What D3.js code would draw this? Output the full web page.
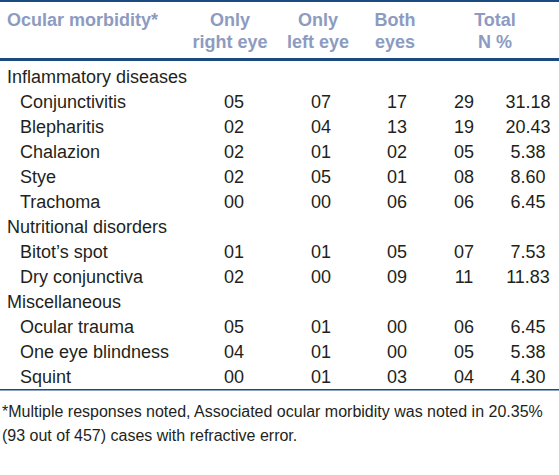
<!DOCTYPE html>
<html>
<head>
<meta charset="utf-8">
<script src="https://cdn.jsdelivr.net/npm/d3@7"></script>
<style>
  html, body { margin: 0; padding: 0; background: #fff; }
  svg { display: block; }
</style>
</head>
<body>
<script>
// ---- data ----
const headerLabels = [["Ocular morbidity*"], ["Only", "right eye"], ["Only", "left eye"], ["Both", "eyes"], ["Total", "N %"]];
const groups = ["Inflammatory diseases", "Nutritional disorders", "Miscellaneous"];
const conditions = ["Conjunctivitis", "Blepharitis", "Chalazion", "Stye", "Trachoma",
                    "Bitot’s spot", "Dry conjunctiva",
                    "Ocular trauma", "One eye blindness", "Squint"];
const conditionGroup = [0, 0, 0, 0, 0, 1, 1, 2, 2, 2];
const onlyRightEye = [5, 2, 2, 2, 0, 1, 2, 5, 4, 0];
const onlyLeftEye  = [7, 4, 1, 5, 0, 1, 0, 1, 1, 1];
const bothEyes     = [17, 13, 2, 1, 6, 5, 9, 0, 0, 3];
const totalN       = [29, 19, 5, 8, 6, 7, 11, 6, 5, 4];
const totalPct     = [31.18, 20.43, 5.38, 8.60, 6.45, 7.53, 11.83, 6.45, 5.38, 4.30];
const footnote = ["*Multiple responses noted, Associated ocular morbidity was noted in 20.35%",
                  "(93 out of 457) cases with refractive error."];

// ---- build rows ----
const rows = [];
let g = -1;
conditions.forEach((c, i) => {
  if (conditionGroup[i] !== g) {
    g = conditionGroup[i];
    rows.push({ type: "group", label: groups[g] });
  }
  rows.push({ type: "item", label: c, vals: [onlyRightEye[i], onlyLeftEye[i], bothEyes[i], totalN[i], totalPct[i]] });
});

const W = 559, H = 475;
const svg = d3.select("body").append("svg").attr("width", W).attr("height", H)
  .style("font-family", "'Liberation Sans', Arial, Helvetica, sans-serif");

const lineColor = "#1b4a80";
const headColor = "#8d9bc1";
const textColor = "#231f20";

// row scale
const y = d3.scaleBand().domain(d3.range(rows.length)).range([64, 389]);

// column scales
const colKeys = ["r", "l", "b", "n", "p"];
const xData = d3.scaleOrdinal().domain(colKeys).range([234, 321, 397, 464, 528]);
const xHead = d3.scaleOrdinal().domain(["label", "r", "l", "b", "n"]).range([7, 230, 318, 395, 495]);
const fmt2 = d3.format("02d");
const fmtP = d3.format(".2f");

// lines
svg.append("rect").attr("x", 0).attr("y", 0).attr("width", W).attr("height", 2).attr("fill", lineColor);
svg.append("rect").attr("x", 0).attr("y", 58).attr("width", W).attr("height", 3).attr("fill", lineColor);
svg.append("rect").attr("x", 0).attr("y", 389).attr("width", W).attr("height", 1.5).attr("fill", lineColor);

// header
const headKeys = ["label", "r", "l", "b", "n"];
headerLabels.forEach((lines, i) => {
  const t = svg.append("text")
    .attr("x", xHead(headKeys[i]))
    .attr("y", 26)
    .attr("fill", headColor)
    .attr("font-weight", "bold")
    .attr("font-size", 18)
    .attr("text-anchor", i === 0 ? "start" : "middle");
  lines.forEach((ln, j) => {
    t.append("tspan").attr("x", xHead(headKeys[i])).attr("dy", j === 0 ? 0 : 22).text(ln);
  });
});

// body
const rowG = svg.selectAll("g.row").data(rows).join("g").attr("class", "row")
  .attr("transform", (d, i) => `translate(0,${y(i) + y.bandwidth() / 2 + 6.5})`);

rowG.append("text")
  .attr("x", d => d.type === "group" ? 7 : 20)
  .attr("font-size", 18)
  .attr("fill", textColor)
  .text(d => d.label);

rowG.filter(d => d.type === "item").each(function (d) {
  d3.select(this).selectAll("text.v").data(d.vals).join("text").attr("class", "v")
    .attr("x", (v, k) => xData(colKeys[k]))
    .attr("text-anchor", "middle")
    .attr("font-size", 18)
    .attr("fill", textColor)
    .text((v, k) => k === 4 ? fmtP(v) : fmt2(v));
});

// footnote
svg.selectAll("text.fn").data(footnote).join("text").attr("class", "fn")
  .attr("x", 2)
  .attr("y", (d, i) => 417 + i * 24)
  .attr("font-size", 16)
  .attr("fill", textColor)
  .text(d => d);
</script>
</body>
</html>
